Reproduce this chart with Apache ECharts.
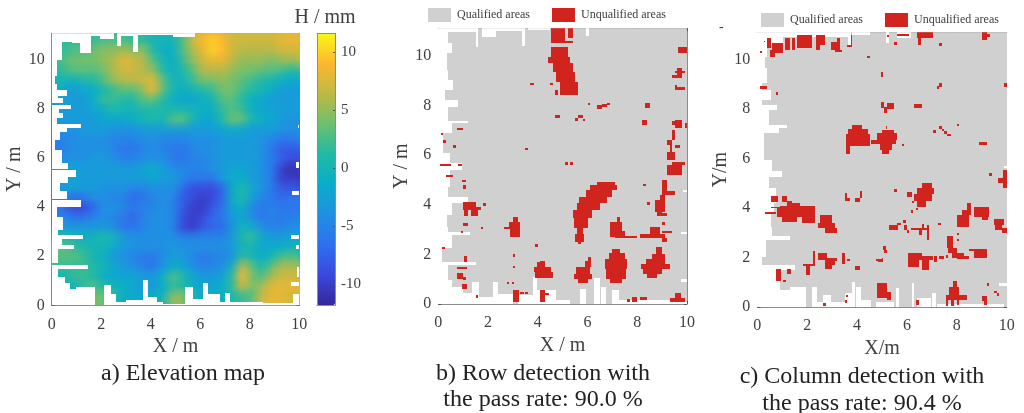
<!DOCTYPE html>
<html><head><meta charset="utf-8">
<style>html,body{margin:0;padding:0;background:#fff}#c{width:1024px;height:413px}</style>
<script src="https://cdn.jsdelivr.net/npm/echarts@6/dist/echarts.min.js"></script>
</head><body><div id="c"></div>
<script>
const xTicks=[0,2,4,6,8,10];
const yTicks=[0,2,4,6,8,10];
const barTicks=[-10,-5,0,5,10];
const elevationX=[.2,.6,1,1.4,1.8,2.2,2.6,3,3.4,3.8,4.2,4.6,5,5.4,5.8,6.2,6.6,7,7.4,7.8,8.2,8.6,9,9.4,9.8];
const elevationY=[11,10.6,10.2,9.8,9.4,9,8.6,8.2,7.8,7.4,7,6.6,6.2,5.8,5.4,5,4.6,4.2,3.8,3.4,3,2.6,2.2,1.8,1.4,1,.6,.2];
const elevationRows=[
[2,2,2,2,2,2,2,2,1,1,0,0,0,3,7,8,9,8,7,7,7,7,7,8,8],
[2,2,2,2,2,3,3,3,2,2,0,0,0,3,7,9,10,9,7,7,7,7,7,8,8],
[2,2,3,3,4,5,5,6,5,5,1,-1,-1,3,6,8,10,9,7,6,6,6,6,7,7],
[2,3,4,4,4,5,6,8,7,6,3,0,-1,2,5,7,8,8,6,5,5,5,4,5,5],
[1,2,3,3,3,4,6,7,7,6,5,1,-1,1,3,6,6,6,5,4,4,3,3,2,1],
[0,0,-1,1,1,3,5,6,6,7,8,3,0,0,2,4,4,5,4,3,2,1,0,-1,-2],
[-1,-2,-3,-2,-1,1,2,3,3,5,8,3,0,-1,0,1,2,4,4,2,1,0,-1,-3,-3],
[-1,-3,-3,-3,-1,2,2,1,1,3,3,1,-1,-2,-2,-1,0,3,3,1,-1,-2,-3,-3,-3],
[-3,-3,-3,-3,-2,-1,1,0,0,1,1,1,1,1,0,-1,-1,2,3,2,-1,-2,-2,-3,-3],
[-3,-3,-3,-3,-3,-2,-2,-2,-1,0,1,0,3,3,0,-2,-2,1,4,3,0,-1,-2,-3,-4],
[-4,-4,-4,-3,-3,-3,-4,-4,-4,-3,-3,-3,-3,-3,-3,-3,-3,-2,-2,-2,-3,-3,-3,-4,-4],
[-5,-5,-4,-4,-4,-4,-5,-5,-5,-4,-4,-5,-5,-5,-4,-4,-4,-3,-3,-3,-3,-4,-5,-6,-6],
[-6,-5,-4,-4,-4,-4,-5,-6,-6,-5,-4,-5,-6,-6,-5,-4,-4,-3,-3,-3,-3,-4,-6,-8,-8],
[-5,-4,-4,-4,-3,-3,-4,-5,-5,-4,-4,-4,-6,-6,-5,-5,-4,-3,-3,-3,-3,-4,-6,-8,-9],
[-3,-2,-2,-3,-3,-3,-3,-3,-3,-2,-1,-3,-4,-5,-5,-5,-4,-3,-2,-2,-3,-4,-6,-10,-11],
[-3,-2,-2,-3,-3,-3,-3,-3,-3,-3,-2,-3,-3,-5,-6,-6,-6,-3,-1,-1,-3,-4,-6,-10,-10],
[-4,-3,-3,-3,-3,-4,-4,-4,-5,-5,-4,-4,-4,-7,-9,-9,-9,-7,-1,1,-2,-4,-6,-8,-8],
[-5,-5,-7,-6,-4,-4,-5,-5,-7,-6,-5,-4,-5,-8,-9,-10,-9,-7,-1,1,-3,-5,-6,-7,-6],
[-6,-7,-9,-9,-7,-4,-4,-5,-6,-5,-5,-4,-5,-8,-10,-10,-8,-6,-2,-1,-5,-6,-5,-6,-6],
[-5,-5,-6,-6,-5,-4,-5,-6,-7,-5,-4,-4,-5,-9,-10,-9,-7,-6,-3,-2,-4,-6,-5,-6,-5],
[-2,-3,-3,-3,-3,-3,-4,-6,-6,-5,-4,-4,-5,-9,-10,-8,-7,-7,-3,0,-1,-4,-5,-5,-4],
[2,1,0,-1,0,1,0,-3,-4,-4,-4,-4,-4,-5,-5,-5,-5,-5,-3,1,2,-2,-3,-3,-2],
[4,3,2,1,0,0,-2,-3,-4,-4,-4,-4,-3,-4,-4,-4,-4,-4,-3,0,0,-2,-1,-1,0],
[3,3,3,2,0,-1,-3,-4,-5,-6,-6,-4,-3,-3,-5,-6,-5,-5,-3,2,0,-1,1,3,3],
[2,2,2,2,1,0,-2,-3,-4,-5,-6,-3,-1,-2,-4,-5,-5,-4,0,7,3,1,4,6,6],
[0,0,2,2,1,-1,-2,-2,-2,-3,-3,-1,3,1,-2,-3,-3,-2,2,9,4,3,6,7,7],
[-1,0,0,2,3,1,0,-1,-2,-3,-3,-1,2,1,-1,-2,-2,-1,2,7,4,6,8,8,8],
[0,0,0,1,4,4,1,-1,-2,-2,-1,0,5,5,0,-1,-1,-1,1,2,3,7,8,8,7]
];
// every area below: [x from, x to, y from, y to] in metres
const blankA=[[0,.4,10,11.1],[0,.2,9.35,10],[0,.15,9.05,9.35],[0,.2,8.8,9.05],[0,.6,8.55,8.8],[0,.25,8.45,8.55],[0,.47,8.25,8.45],[0,.78,8,8.18],[0,.3,7.85,8],[0,.47,7.63,7.85],[0,.2,7.4,7.63],[0,1.17,7.22,7.4],[0,.6,7.08,7.22],[0,.35,6.75,7.08],[0,.13,6.35,6.75],[0,.4,5.8,6.35],[0,.65,5.55,5.8],[0,.98,5.25,5.52],[0,.67,5,5.25],[0,.35,4.65,5],[0,.6,4.35,4.65],[0,1.18,4.03,4.3],[0,.2,3.62,4.03],[0,.45,3.08,3.62],[0,.25,2.87,3.08],[0,1.25,2.7,2.87],[0,.4,2.46,2.7],[0,.9,2.28,2.46],[0,.25,1.71,2.28],[0,1.48,1.5,1.65],[0,.25,1.17,1.5],[0,.55,.9,1.17],[0,.75,.65,.9],[0,1,.49,.65],[0,1.75,0,.49],[1,1.75,0,.75],[2.1,2.4,0,.83],[2.4,2.6,0,.45],[2.6,3,0,.12],[3,3.7,0,.2],[3.7,3.9,0,1.03],[3.9,4.25,0,.35],[4.25,4.5,0,.15],[4.5,5.4,0,.05],[5.4,5.7,0,.73],[5.7,6.1,0,.25],[6.1,6.3,0,.93],[6.3,6.8,0,.45],[6.8,7,0,.15],[7,7.2,0,.5],[7.2,8.55,0,.12],[8.55,9.9,0,.08],[.4,.8,10.75,11.1],[.8,1.15,10.7,11.1],[1.15,1.6,10.3,11.1],[1.6,1.95,11,11.1],[1.95,2.5,10.85,11.1],[2.65,2.8,10.6,11.1],[2.8,3.3,11,11.1],[3.3,3.5,10.35,11.1],[3.5,4.9,11.05,11.1],[4.9,5.8,10.95,11.1],[9.85,10,5.6,5.85],[9.7,10,4.5,4.68],[9.65,10,2.7,2.87],[9.85,10,2.28,2.46],[9.65,10,.78,.95],[9.9,10,1.15,1.55],[9.95,10,7.25,7.35],[9.75,10,0,.45]];
const blankB=[[0,.4,10.5,11.1],[0,.55,10.1,10.5],[0,.35,9.42,10.1],[0,.4,9.02,9.42],[0,.6,8.62,9.02],[0,.25,8.2,8.62],[0,.8,7.95,8.2],[0,.4,7.38,7.95],[0,1.2,7.27,7.38],[0,.55,6.87,7.27],[0,.2,6.07,6.87],[0,.47,5.66,6.07],[0,.95,5.4,5.66],[0,.47,4.72,5.4],[0,.4,4.32,4.72],[0,1.2,4.05,4.32],[0,.55,3.58,4.05],[0,.33,3.1,3.58],[0,.4,2.91,3.1],[0,1.27,2.78,2.91],[0,.55,2.24,2.78],[0,.15,1.7,2.24],[0,1.5,1.57,1.7],[0,.4,.97,1.57],[0,.55,.7,.97],[0,1,.43,.7],[0,1.55,0,.43],[1.35,1.65,0,.9],[1.65,2.2,0,.3],[2.2,2.4,0,.9],[2.4,3,0,.4],[3.2,3.8,0,.35],[3.8,3.95,0,1.1],[3.95,4.75,0,.55],[4.75,5.3,0,.15],[5.7,5.95,0,.6],[6.25,6.5,0,1.05],[6.55,6.75,0,.7],[7,7.25,0,.55],[7.25,9.7,0,.15],[9.7,10,0,.1],[9.75,10,.9,1],[.4,1.6,10.95,11.1],[1.5,1.6,10.35,11.1],[1.75,2.3,10.75,11.1],[2.3,3.35,11,11.1],[3.35,3.5,10.4,11.1],[3.6,4.5,11.05,11.1],[5.95,6.05,10.8,11.1],[9.85,10,4.5,4.6],[9.75,10,2.8,2.9]];
const blankC=[[0,.4,10.1,11.1],[0,.3,9.65,10.1],[0,.4,9.05,9.65],[0,.2,8.75,9.05],[0,.53,8.37,8.75],[0,.2,8.17,8.37],[0,.8,7.97,8.17],[0,.45,7.36,7.97],[0,1.2,7.22,7.36],[0,.87,7.02,7.22],[0,.25,5.94,7.02],[0,.6,5.51,5.94],[0,1,5.27,5.51],[0,.45,4.8,5.27],[0,.73,4.19,4.8],[0,.67,3.79,4.19],[0,.53,3.25,3.79],[0,.6,2.87,3.25],[0,1.33,2.71,2.87],[0,.33,2.03,2.71],[0,.2,1.7,2.03],[0,1.5,1.5,1.7],[0,.73,1.09,1.5],[0,.93,.69,1.09],[0,1.33,0,.69],[1.33,1.95,0,.8],[2.2,2.4,0,.8],[2.4,2.65,0,.2],[2.65,2.95,0,.48],[2.95,3.5,0,.2],[3.5,3.8,0,.55],[3.8,3.9,0,1],[3.95,4.15,0,.8],[4.15,4.55,0,.3],[4.75,5.5,0,.2],[5.55,5.7,0,.75],[6.2,6.3,0,.95],[6.4,6.95,0,.35],[7,7.15,0,.55],[7.2,9.9,0,.12],[9.7,10,.85,.95],[.4,1.05,10.6,11.1],[1.05,3.65,10.9,11.1],[3.65,3.75,10.5,11.1],[3.8,4.5,11,11.1],[5.15,5.3,10.65,11.1],[5.6,6.15,10.85,11.1],[9.9,10,5.6,5.7]];
const defectsB=[[4.55,5.1,10.5,11.1],[5.2,5.4,10.7,11.1],[5.1,5.4,10.5,10.6],[4.55,5.2,9.95,10.35],[4.4,5.3,9.7,9.95],[4.6,5.4,9.35,9.7],[4.75,5.5,8.95,9.35],[4.9,5.6,8.4,8.95],[3.7,3.85,8.8,8.9],[4.5,4.6,8.8,8.9],[4.7,4.8,8.4,8.6],[6,6.1,8,8.1],[6.4,6.6,7.85,8],[6.6,6.8,7.95,8.05],[6.8,6.9,8,8.1],[8.3,8.5,7.9,8.1],[4.7,4.9,7.5,7.6],[5.6,5.8,7.5,7.6],[5.5,5.6,7.35,7.5],[5.8,5.9,7.35,7.45],[8.2,8.4,7.2,7.4],[9.4,9.8,7.2,7.35],[9.5,9.8,7.1,7.4],[9.9,10,7.1,7.3],[9.65,10,10.1,10.35],[9.5,9.9,9.3,9.4],[9.6,9.8,9.1,9.5],[9.4,9.7,9.1,9.2],[9.5,9.6,8.6,8.8],[9.6,9.9,8.6,8.75],[.75,1,7,7.1],[.1,.2,6.8,6.9],[.2,.3,6.5,6.6],[.6,.7,6.3,6.4],[3.5,3.6,6.2,6.3],[.05,.5,5.55,5.65],[.8,.95,5.55,5.65],[.3,.6,5.1,5.2],[.95,1.1,4.9,5],[1,1.1,4.65,4.8],[5.1,5.2,5.6,5.7],[5.3,5.4,5.6,5.7],[9.4,9.5,6.6,7],[9.2,9.4,6.4,6.6],[9.5,9.7,6.3,6.4],[9.3,9.4,6,6.4],[9.2,9.5,5.8,6.1],[9.4,9.9,5.6,5.7],[9.2,9.8,5.2,5.6],[8.25,8.35,4.75,4.85],[9,9.2,4.55,5],[9,9.5,4.4,4.55],[8.9,9.1,4.2,4.4],[8.7,9.1,3.7,4.2],[8.8,9,3.55,3.7],[9,9.2,3.55,3.65],[8.4,8.5,4,4.1],[6.37,7.1,4.8,4.93],[6.1,7.2,4.6,4.8],[5.95,6.97,4.3,4.6],[5.67,6.77,4.05,4.3],[5.56,6.5,3.8,4.05],[5.43,6.17,3.45,3.8],[5.45,6,3.05,3.45],[5.56,5.83,2.8,3.05],[5.5,5.86,2.5,2.8],[5.6,5.75,2.4,2.5],[7.2,7.3,3.3,3.5],[6.9,7.4,2.95,3.3],[6.9,7.5,2.7,2.95],[7.1,8,2.65,2.75],[8.1,9.1,2.65,2.8],[8.5,8.9,2.8,3.1],[9,9.4,2.85,2.95],[9,9.2,2.5,2.65],[9,9.1,3.2,3.3],[3,3.2,3.3,3.5],[2.85,3.3,3.1,3.3],[2.65,3.3,3,3.1],[2.9,3.3,2.7,3],[1,1.5,3.9,4.1],[1,1.7,3.8,3.9],[1.05,1.2,3.55,3.8],[1.3,1.6,3.55,3.8],[1.8,1.9,3.95,4.05],[1,1.2,3.15,3.25],[.9,1,2.85,2.95],[1.7,1.8,3,3.1],[.15,.25,2.2,2.3],[3.9,4,2.3,2.4],[3,3.1,1.9,2],[3,3.1,1.45,1.55],[1.05,1.15,1.7,1.95],[.75,1.15,1.4,1.5],[.75,1,1,1.25],[1,1.1,.95,1.1],[.95,1.15,.6,.8],[2.75,2.85,.8,.9],[2.95,3.05,.8,.9],[1.5,1.6,.25,.35],[3,3.25,.1,.55],[3.3,3.45,.4,.5],[3.5,3.6,.4,.5],[4.1,4.3,.1,.55],[4.3,4.45,.35,.45],[3.95,4.1,1.3,1.7],[4.1,4.3,1.5,1.75],[3.85,4.55,1.3,1.5],[3.9,4.6,1.05,1.3],[6,6.15,1.75,1.9],[5.9,6.15,1.5,1.75],[5.55,6.1,1.2,1.5],[5.45,6.2,1,1.2],[5.6,6,.85,1],[7,7.3,2.05,2.2],[6.85,7.5,1.8,2.05],[6.7,7.6,1.4,1.8],[6.75,7.55,1,1.4],[6.9,7.4,.85,1],[8.75,9,2,2.3],[8.6,9.1,1.8,2],[8.35,9.1,1.6,1.8],[8.15,9.3,1.4,1.6],[8.25,9,1.2,1.4],[8.4,8.8,1.05,1.2],[9.3,9.9,.1,.25],[9.5,9.75,.25,.45],[7.6,7.7,.1,.2],[7.8,8,.1,.3],[8.1,8.4,.15,.3]];
const defectsC=[[.4,.55,10.45,10.85],[.5,.7,10.1,10.4],[.6,1.05,10.25,10.65],[1.1,1.3,10.4,10.85],[1.4,1.5,10.4,10.85],[1.6,2.2,10.45,11],[2.35,2.7,10.6,11],[2.35,2.5,10.4,10.6],[2.95,3.3,10.4,10.7],[3.2,3.3,10.7,10.85],[3.1,3.4,10.3,10.4],[3.6,3.8,10.5,10.6],[3.75,3.8,10.5,11],[.25,.3,10.7,10.75],[.1,.2,10.25,10.35],[5.2,5.3,10.9,11],[5.5,5.6,10.6,10.7],[5.6,6.1,10.95,11.05],[6.4,7.05,10.85,11.1],[6.45,6.55,10.6,10.85],[7.3,7.4,10.55,10.65],[9,9.2,10.8,11.1],[9.2,9.35,10.9,11.05],[4.4,4.5,10.05,10.15],[4.95,5.05,9.3,9.5],[7.2,7.3,8.8,8.95],[7.3,7.4,8.9,9.05],[.1,.4,8.8,8.95],[.75,.85,8.55,8.7],[9.9,10,8.9,9.05],[4.95,5.1,8.05,8.3],[5.1,5.2,7.85,8.1],[5.2,5.5,8,8.25],[6.3,6.6,8.05,8.2],[3.8,4.2,7.2,7.35],[3.65,4.45,7,7.2],[3.55,4.5,6.5,7],[3.55,3.7,6.2,6.5],[5,5.5,7.05,7.15],[4.8,5.6,6.75,7.05],[4.55,5.55,6.6,6.75],[4.9,5.4,6.35,6.6],[5,5.3,6.2,6.35],[5.8,5.9,6.5,6.6],[5.15,5.2,7.2,7.3],[7.05,7.15,7.05,7.15],[7.3,7.4,7.2,7.3],[7.4,7.5,7.1,7.2],[7.5,7.6,7,7.1],[7.6,7.75,6.9,7],[8,8.1,7.3,7.4],[8.9,9.2,6.55,6.65],[9.3,9.4,5.3,5.4],[9.85,10,5.15,5.55],[9.65,10,5,5.2],[9.85,10,4.8,5],[5.5,5.6,4.65,4.75],[3.5,3.6,4.3,4.6],[3.6,3.7,4.3,4.4],[3.9,4.1,4.25,4.4],[4.1,4.2,4.4,4.7],[6.6,7,4.8,5],[6.4,7.1,4.55,4.8],[6,6.2,4.45,4.65],[6.3,7,4.3,4.55],[6.4,6.75,4.05,4.3],[6.2,6.3,4.2,4.3],[6.15,6.25,3.8,3.9],[6.35,6.45,3.9,4],[.55,.85,4.25,4.5],[1,1.2,4.25,4.5],[1.2,1.4,4.1,4.3],[.55,.9,4,4.05],[.9,2.3,3.75,4.1],[.8,2.3,3.65,4],[.3,.75,3.75,3.85],[1,1.6,3.45,3.65],[1.8,2.3,3.4,3.65],[1.4,1.7,4,4.2],[2.5,3,3.4,3.7],[2.45,3.1,3.2,3.4],[2.7,3.2,3,3.2],[5.3,5.65,3.1,3.3],[5.6,5.75,3.3,3.4],[5.85,5.95,3.4,3.5],[5.9,6,3.1,3.3],[6,6.1,3,3.1],[6.15,6.7,3.1,3.2],[6.5,6.6,2.9,3.1],[6.8,6.9,2.7,3.3],[6.7,6.9,3.1,3.2],[6.6,6.7,3.2,3.35],[7.25,7.35,3.3,3.4],[8.4,8.55,3.9,4.2],[8.2,8.55,3.7,3.9],[8,8.5,3.25,3.7],[8,8.1,2.9,3],[8.7,9.3,3.65,4.05],[9,9.25,3.5,3.7],[9.5,9.9,3.3,3.55],[9.55,9.8,3.1,3.3],[9.8,10,3,3.2],[7.6,7.85,2.4,2.85],[7.65,8,2.2,2.4],[7.8,8.3,2,2.2],[8,8.5,1.95,2.05],[8,8.1,2.65,2.75],[8.5,9.2,2.25,2.35],[8.7,9.2,2,2.25],[6.05,6.6,2,2.2],[6.05,6.5,1.6,2],[6.5,7.05,1.9,2.05],[6.6,6.9,1.5,1.9],[7.1,7.2,1.8,2.05],[7.3,7.5,1.95,2.05],[7.55,7.65,2,2.1],[2.25,2.3,1.7,2.25],[1.85,2.3,1.65,1.75],[1.95,2.1,1.3,1.65],[2.45,2.8,1.9,2.2],[2.7,3,1.55,2],[3,3.2,1.85,2],[3,3.1,1.7,1.85],[3.4,3.5,1.75,2.2],[3.6,3.7,1.85,1.95],[3.9,4.1,1.5,1.65],[4.85,5,1.8,1.95],[5,5.05,1.8,2],[5.05,5.15,2.3,2.45],[5.1,5.2,2.2,2.3],[4.75,4.85,1.85,1.95],[.75,.95,1.05,1.55],[1.2,1.35,1.35,1.55],[1.05,1.15,1,1.1],[4.8,5.2,.35,.95],[5.2,5.35,.3,.6],[3.55,3.65,.4,.5],[3.5,3.6,.15,.3],[2.65,2.75,.05,.15],[6.35,6.5,.1,.3],[7.85,8,.8,1.05],[7.7,8.1,.5,.8],[7.55,8.4,.3,.5],[7.55,7.65,.05,.3],[7.75,7.9,.05,.3],[8,8.1,.1,.3],[9.2,9.3,.85,.95],[9,9.2,.25,.45],[9.1,9.2,.1,.3],[9.5,9.6,.55,.65],[9.6,9.7,.45,.55]];
const qualifiedFrame=[[0,10,0,11.1]];
const qualifiedName='Qualified areas', unqualifiedName='Unqualified areas';
const parula=['#35279a','#3a48dc','#2f70ee','#2090e2','#0aacca','#20b9a6','#6cc070','#bfb845','#fdb72f','#f8f916'];

const F='"Liberation Serif","Times New Roman",serif', INK='#404040', EDGE='#8c8c8c', GRAY='#d0d0d0', RED='#d2241e';
const elevationCells=[];
elevationRows.forEach((r,j)=>r.forEach((v,i)=>elevationCells.push([elevationX[i],elevationY[j],v])));

const grids=[
 {left:51.7,top:33.3,width:247.6,height:272},
 {left:317,top:33.3,width:18,height:272},
 {left:438.3,top:28.3,width:248.7,height:275.7},
 {left:757.3,top:32.3,width:249.4,height:274.7}
];
const plots=[
 {g:0,xn:'X / m',yn:'Y / m',xGap:31,yGap:26},
 {g:2,xn:'X / m',yn:'Y / m',xGap:29,yGap:27},
 {g:3,xn:'X/m',yn:'Y/m',xGap:30,yGap:26}
];
const xAxis=[],yAxis=[];
function lineStyle(){return {axisLine:{show:true,onZero:false,lineStyle:{color:EDGE,width:1}},splitLine:{show:false}};}
plots.forEach(p=>{
 xAxis.push(Object.assign(lineStyle(),{type:'value',gridIndex:p.g,min:0,max:10,position:'bottom',name:p.xn,nameLocation:'middle',nameGap:p.xGap,nameTextStyle:{fontFamily:F,fontSize:20,color:INK},
  axisTick:{inside:true,length:3,lineStyle:{color:'#555'},customValues:xTicks},axisLabel:{customValues:xTicks,fontFamily:F,fontSize:16,color:INK,margin:11}}));
 xAxis.push(Object.assign(lineStyle(),{type:'value',gridIndex:p.g,min:0,max:10,position:'top',axisTick:{inside:true,length:3,lineStyle:{color:'#555'},customValues:xTicks},axisLabel:{show:false}}));
 yAxis.push(Object.assign(lineStyle(),{type:'value',gridIndex:p.g,min:0,max:11.1,position:'left',name:p.yn,nameLocation:'middle',nameGap:p.yGap,nameTextStyle:{fontFamily:F,fontSize:20,color:INK},
  axisTick:{inside:true,length:3,lineStyle:{color:'#555'},customValues:yTicks},axisLabel:{customValues:yTicks,fontFamily:F,fontSize:16,color:INK,margin:7,padding:[3,0,0,0]}}));
 yAxis.push(Object.assign(lineStyle(),{type:'value',gridIndex:p.g,min:0,max:11.1,position:'right',axisTick:{inside:true,length:3,lineStyle:{color:'#555'},customValues:yTicks},axisLabel:{show:false}}));
});
// colour bar axes (frame plus tick labels)
function barFrameX(pos){return {type:'value',gridIndex:1,min:0,max:1,position:pos,z:10,axisLine:{show:true,onZero:false,lineStyle:{color:EDGE}},axisTick:{show:false},axisLabel:{show:false},splitLine:{show:false}};}
xAxis.push(barFrameX('bottom'),barFrameX('top'));
yAxis.push({type:'value',gridIndex:1,min:-11.8,max:11.6,position:'right',z:10,
 axisLine:{show:true,onZero:false,lineStyle:{color:EDGE}},splitLine:{show:false},
 axisTick:{inside:true,length:2,lineStyle:{color:'#555'},customValues:barTicks},
 axisLabel:{customValues:barTicks,fontFamily:F,fontSize:15,color:INK,margin:6,padding:[3,0,0,0]}},
 {type:'value',gridIndex:1,min:-11.8,max:11.6,position:'left',z:10,axisLine:{show:true,onZero:false,lineStyle:{color:EDGE}},axisTick:{show:false},axisLabel:{show:false},splitLine:{show:false}});

function rects(name,data,ax,color,z){
 return {type:'custom',name,xAxisIndex:ax,yAxisIndex:ax,data,z,clip:true,silent:true,
  encode:{x:[0,1],y:[2,3]},itemStyle:{color},
  renderItem(p,api){
   const a=api.coord([api.value(0),api.value(2)]),b=api.coord([api.value(1),api.value(3)]);
   const x0=Math.round(a[0]),x1=Math.max(Math.round(b[0]),x0+1),y1=Math.round(a[1]),y0=Math.min(Math.round(b[1]),y1-1);
   return {type:'rect',shape:{x:x0,y:y0,width:x1-x0,height:y1-y0},style:{fill:color}};
  }};
}
const series=[
 {type:'custom',name:'Elevation',xAxisIndex:0,yAxisIndex:0,data:elevationCells,z:2,clip:true,silent:true,encode:{x:0,y:1},
  renderItem(p,api){
   const c=api.coord([api.value(0),api.value(1)]),s=api.size([.4,.4]);
   return {type:'rect',shape:{x:c[0]-s[0]/2-.5,y:c[1]-s[1]/2-.5,width:s[0]+1,height:s[1]+1},style:{fill:api.visual('color')}};
  }},
 {type:'custom',name:'Elevation soft',xAxisIndex:0,yAxisIndex:0,data:elevationCells,z:3,clip:true,silent:true,encode:{x:0,y:1},
  renderItem(p,api){
   const c=api.coord([api.value(0),api.value(1)]),s=api.size([.4,.4]),col=api.visual('color');
   const r=s[0]*1.5;
   return {type:'circle',shape:{cx:c[0],cy:c[1],r},style:{fill:new echarts.graphic.RadialGradient(.5,.5,.5,[
    {offset:0,color:echarts.color.modifyAlpha(col,1)},{offset:.4,color:echarts.color.modifyAlpha(col,.65)},{offset:1,color:echarts.color.modifyAlpha(col,0)}])}};
  }},
 rects('blank A',blankA,0,'#ffffff',4),
 rects(qualifiedName,qualifiedFrame,2,GRAY,2),
 rects('blank B',blankB,2,'#ffffff',3),
 rects(unqualifiedName,defectsB,2,RED,4),
 rects(qualifiedName,qualifiedFrame,4,GRAY,2),
 rects('blank C',blankC,4,'#ffffff',3),
 rects(unqualifiedName,defectsC,4,RED,4)
];
const option={
 animation:false,backgroundColor:'#fff',
 grid:grids.map(g=>Object.assign({containLabel:false},g)),
 xAxis,yAxis,series,
 visualMap:{type:'continuous',show:true,seriesIndex:[0,1],dimension:2,min:-11.8,max:11.6,inRange:{color:parula},
  calculable:false,hoverLink:false,left:317,top:33.3,itemWidth:18,itemHeight:272,padding:0,text:null,showLabel:false,realtime:false,textStyle:{fontSize:0}},
 legend:[
  {left:428,top:8,padding:0,itemWidth:23,itemHeight:14,itemGap:22,selectedMode:false,icon:'rect',data:[qualifiedName,unqualifiedName],textStyle:{fontFamily:F,fontSize:12,color:INK,padding:[0,0,0,1]}},
  {left:761,top:13,padding:0,itemWidth:23,itemHeight:14,itemGap:22,selectedMode:false,icon:'rect',data:[qualifiedName,unqualifiedName],textStyle:{fontFamily:F,fontSize:12,color:INK,padding:[0,0,0,1]}}
 ],
 title:[
  {text:'H / mm',left:325,top:8,textAlign:'center',padding:0,textStyle:{fontFamily:F,fontSize:20,fontWeight:'normal',color:INK}},
  {text:'a) Elevation map',left:183,top:362,textAlign:'center',padding:0,textStyle:{fontFamily:F,fontSize:24,fontWeight:'normal',color:'#222'}},
  {text:'b) Row detection with\nthe pass rate: 90.0 %',left:543,top:361,textAlign:'center',padding:0,textStyle:{fontFamily:F,fontSize:24,lineHeight:26,fontWeight:'normal',color:'#222'}},
  {text:'c) Column detection with\nthe pass rate: 90.4 %',left:862,top:363,textAlign:'center',padding:0,textStyle:{fontFamily:F,fontSize:24,lineHeight:27,fontWeight:'normal',color:'#222'}},
  {text:'-',left:719,top:20,padding:0,textStyle:{fontFamily:F,fontSize:14,fontWeight:'normal',color:INK}}
 ]
};
const chart=echarts.init(document.getElementById('c'),null,{renderer:'canvas'});
chart.setOption(option);
</script></body></html>
